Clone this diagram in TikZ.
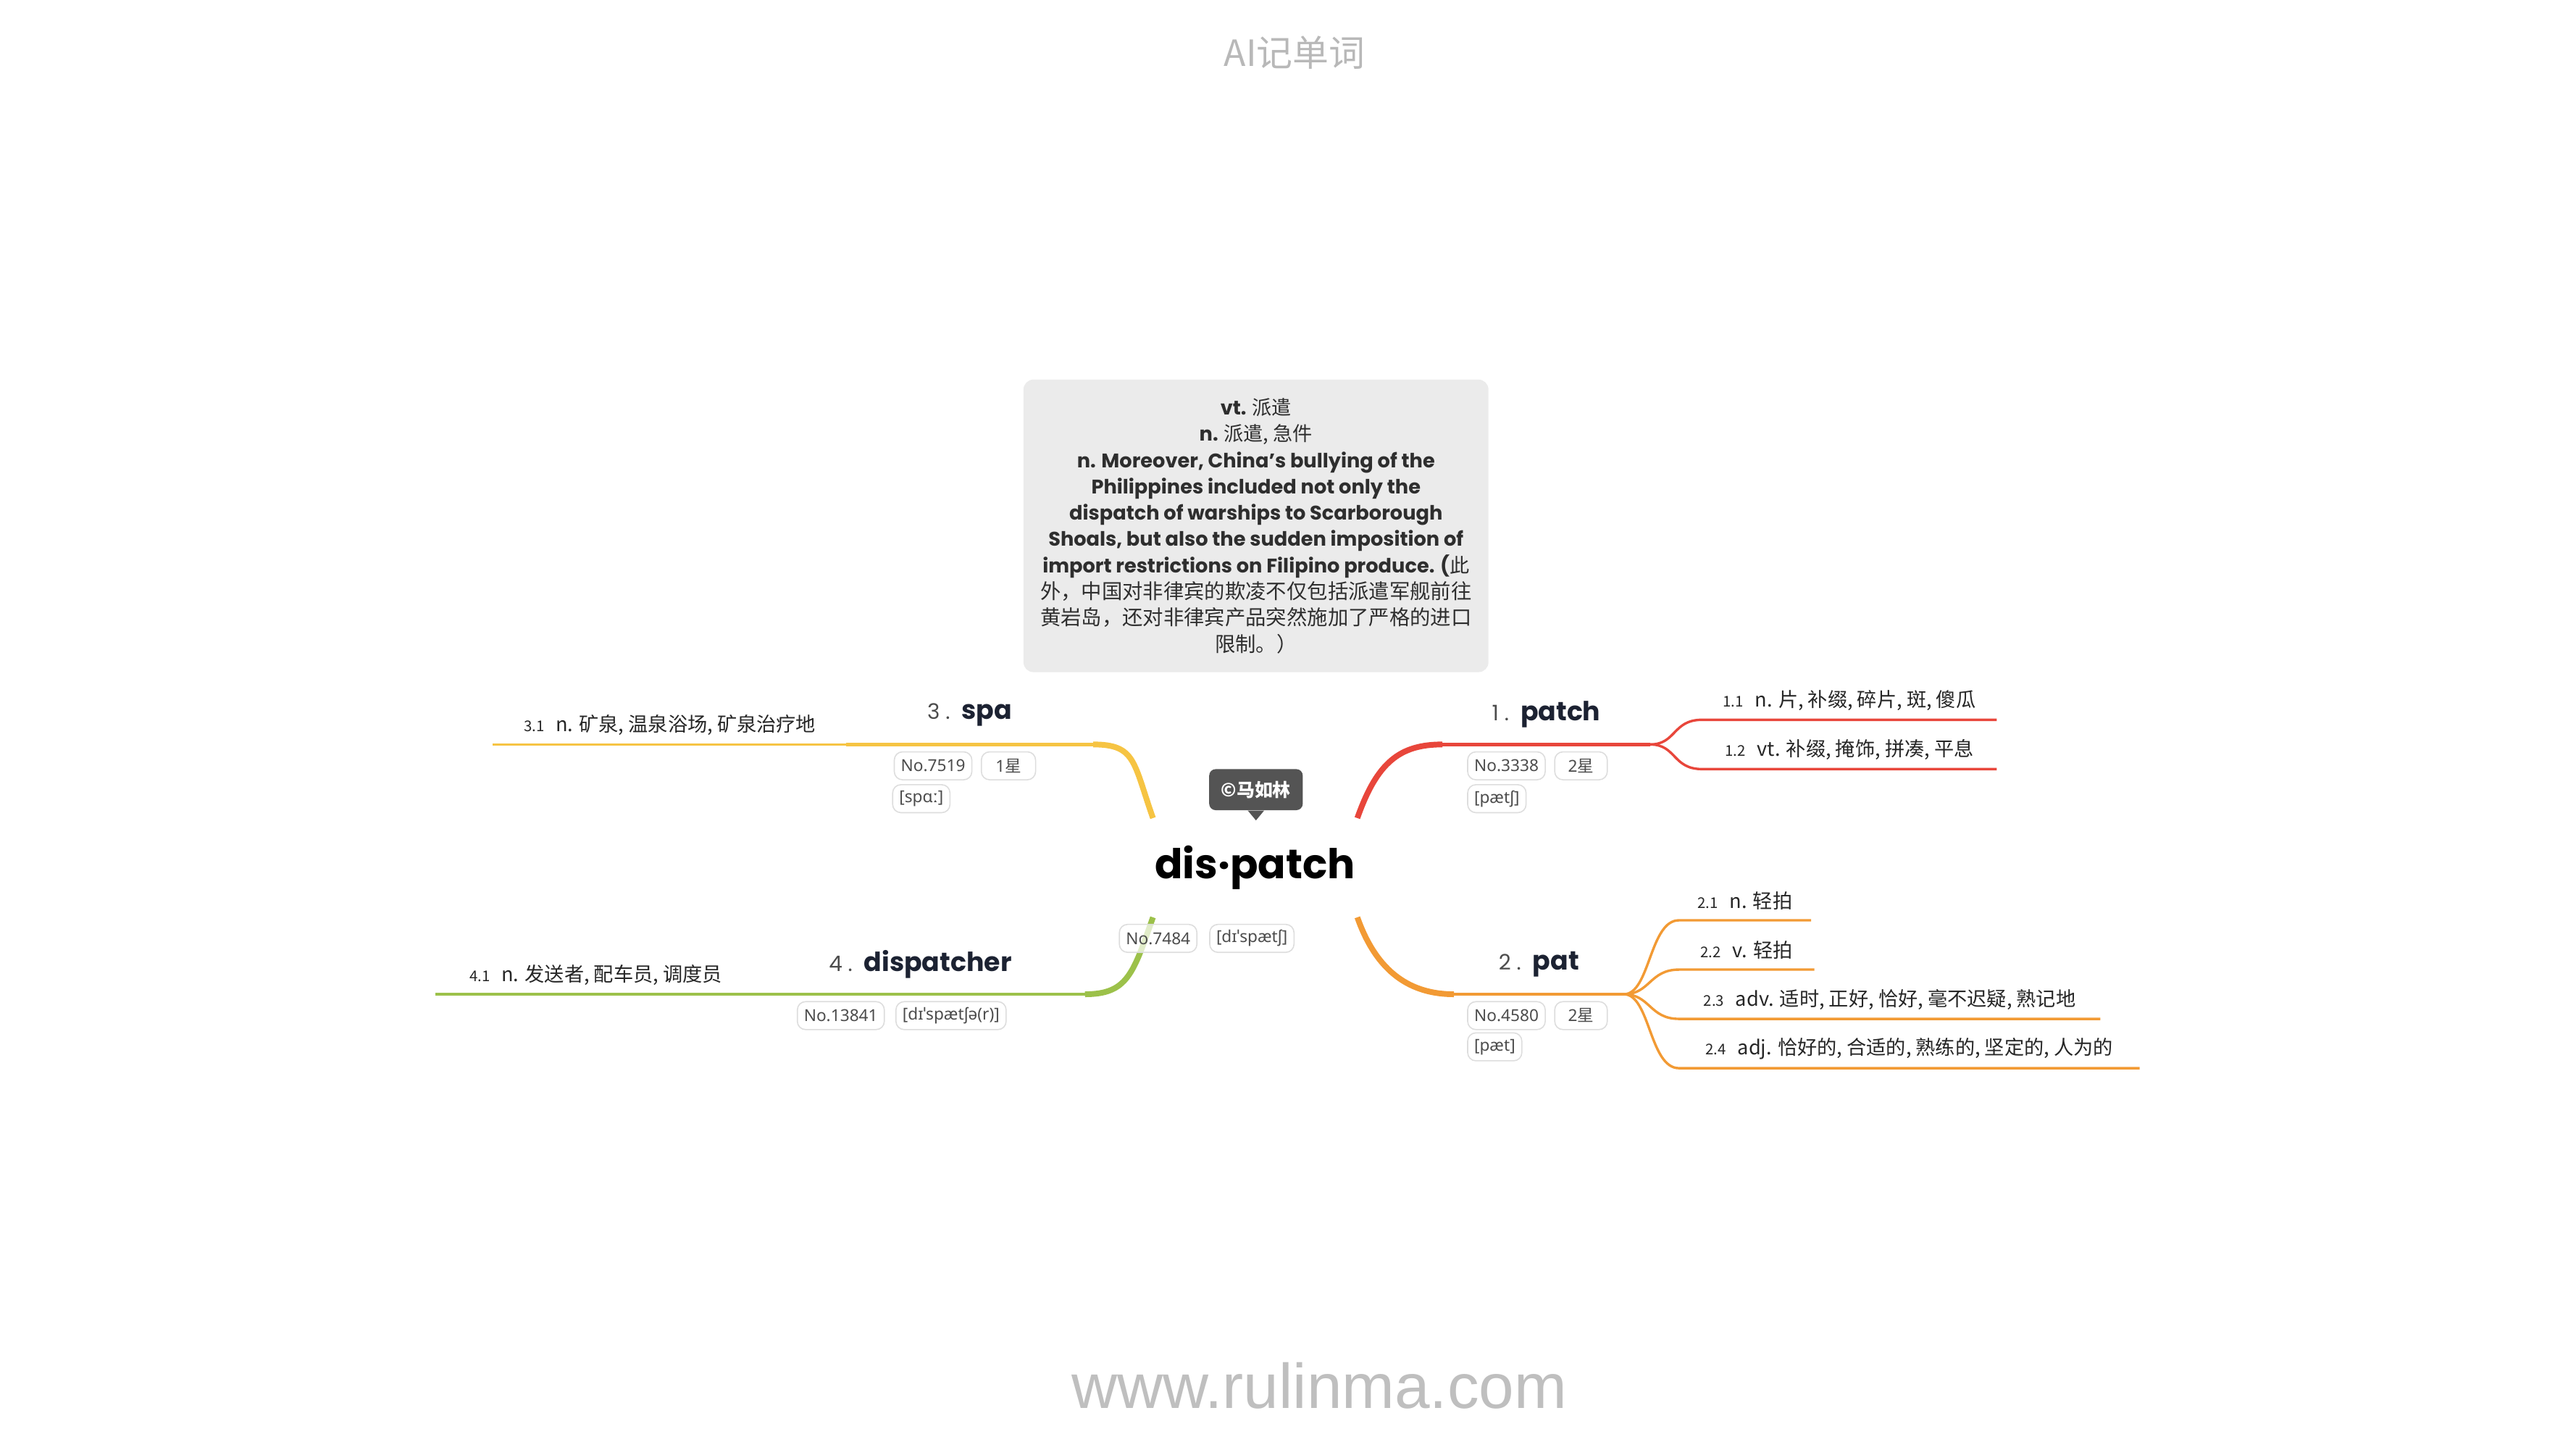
\documentclass[tikz,border=0pt]{standalone}
\usepackage{fontspec}
\setmainfont{Poppins}
\newfontfamily\cjk{Noto Sans CJK SC}
\newfontfamily\pillfont{Noto Sans}
\newfontfamily\webfont{Liberation Sans}
\usepackage{tikz}
\usetikzlibrary{calc}
\usepackage{xcolor}
\definecolor{bred}{HTML}{E8463B}
\definecolor{borange}{HTML}{F29A34}
\definecolor{byellow}{HTML}{F6C443}
\definecolor{bgreen}{HTML}{9CC14A}
\definecolor{boxgray}{HTML}{EBEBEB}
\definecolor{ink}{HTML}{1C2232}
\definecolor{pillline}{HTML}{DDDDDD}
\newcommand{\topicnum}[1]{{\mdseries\fontsize{13}{13}\selectfont\color{black!70}#1 .\hspace{7pt}}}
\newcommand{\subnum}[1]{{\fontsize{9}{9}\selectfont#1}\hspace{7pt}}

\begin{document}
\begin{tikzpicture}[x=1pt,y=-1pt,
  topic/.style={anchor=south west,minimum width=#1,minimum height=36pt,inner sep=0pt,
    font=\bfseries\fontsize{16}{16}\selectfont,text=ink},
  sub/.style={anchor=south west,minimum width=#1,minimum height=23pt,inner sep=0pt,
    font=\cjk\fontsize{12}{13}\selectfont,text=black!85},
  pill/.style={draw=pillline,fill=white,fill opacity=0.7,text opacity=1,rounded corners=5pt,
    line width=0.7pt,anchor=west,minimum height=17pt,inner xsep=4pt,inner ysep=0pt,
    font=\pillfont\fontsize{10}{11}\selectfont,text=black!70},
  trunk/.style={line width=3.5pt},
  limb/.style={line width=2pt},
  twig/.style={line width=1.5pt}
  ]
\useasboundingbox (0,0) rectangle (1568,882);

% title and footer
\node[font=\cjk\fontsize{22}{22}\selectfont,text=black!28] (title) at (788,32) {AI记单词};
\node[font=\webfont\fontsize{38.5}{38.5}\selectfont,text=black!25] (site) at (803,843) {www.rulinma.com};

% note box
\node[fill=boxgray,rounded corners=6pt,minimum width=283pt,minimum height=178pt,align=center,
  inner sep=0pt,text=black!82,font=\bfseries\fontsize{12}{16}\selectfont] (def) at (764.5,320)
  {vt. {\cjk\mdseries 派遣}\\
   n. {\cjk\mdseries 派遣, 急件}\\
   n. Moreover, China’s bullying of the\\
   Philippines included not only the\\
   dispatch of warships to Scarborough\\
   Shoals, but also the sudden imposition of\\
   import restrictions on Filipino produce. ({\cjk\mdseries 此}\\
   {\cjk\mdseries\fontsize{12.5}{16}\selectfont 外，中国对非律宾的欺凌不仅包括派遣军舰前往}\\
   {\cjk\mdseries\fontsize{12.5}{16}\selectfont 黄岩岛，还对非律宾产品突然施加了严格的进口}\\
   {\cjk\mdseries\fontsize{12.5}{16}\selectfont 限制。）}};

% root word
\node[font=\bfseries\fontsize{25}{25}\selectfont,minimum width=124pt,minimum height=60pt,
  inner sep=0pt] (root) at (764,528) {\raisebox{-2pt}{dis·patch}};
\node[fill=black!67,rounded corners=4pt,text=white,font=\cjk\bfseries\fontsize{11}{12}\selectfont,
  minimum width=57pt,minimum height=25pt,inner sep=2pt] (mark) at (764.5,480.5) {©马如林};
\fill[black!67] ([xshift=-5pt]mark.south) -- ([yshift=-6pt]mark.south) -- ([xshift=5pt]mark.south) -- cycle;

% topics
\node[topic=126pt] (b1) at (878,453) {\topicnum{1}patch};
\node[topic=103pt] (b2) at (885,605) {\topicnum{2}pat};
\node[topic=150pt] (b3) at (515,453) {\topicnum{3}spa};
\node[topic=200pt] (b4) at (460,605) {\topicnum{4}dispatcher};

% meanings
\node[sub=179pt] (s11) at (1036,438) {\subnum{1.1}n. 片, 补缀, 碎片, 斑, 傻瓜};
\node[sub=179pt] (s12) at (1036,468) {\subnum{1.2}vt. 补缀, 掩饰, 拼凑, 平息};
\node[sub=80pt] (s21) at (1022,560) {\subnum{2.1}n. 轻拍};
\node[sub=82pt] (s22) at (1022,590) {\subnum{2.2}v. 轻拍};
\node[sub=256pt] (s23) at (1022,620) {\subnum{2.3}adv. 适时, 正好, 恰好, 毫不迟疑, 熟记地};
\node[sub=280pt] (s24) at (1022,650) {\subnum{2.4}adj. 恰好的, 合适的, 熟练的, 坚定的, 人为的};
\node[sub=215pt] (s31) at (300,453) {\subnum{3.1}n. 矿泉, 温泉浴场, 矿泉治疗地};
\node[sub=195pt] (s41) at (265,605) {\subnum{4.1}n. 发送者, 配车员, 调度员};

% branches
\draw[bred,trunk] (root.north east) .. controls +(12,-34) and +(-26,0) .. (b1.south west);
\draw[bred,limb] (b1.south west) -- (b1.south east);
\foreach \s in {s11,s12}
  \draw[bred,twig] (b1.south east) .. controls +(16,0) and +(-18,0) .. (\s.south west) -- (\s.south east);

\draw[borange,trunk] (root.south east) .. controls +(12,34) and +(-26,0) .. (b2.south west);
\draw[borange,limb] (b2.south west) -- (b2.south east);
\foreach \s in {s21,s22,s23,s24}
  \draw[borange,twig] (b2.south east) .. controls +(16,0) and +(-18,0) .. (\s.south west) -- (\s.south east);

\draw[byellow,trunk] (root.north west) .. controls +(-12,-34) and +(26,0) .. (b3.south east);
\draw[byellow,limb] (b3.south east) -- (b3.south west);
\draw[byellow,twig] (b3.south west) -- (s31.south east) -- (s31.south west);

\draw[bgreen,trunk] (root.south west) .. controls +(-12,34) and +(26,0) .. (b4.south east);
\draw[bgreen,limb] (b4.south east) -- (b4.south west);
\draw[bgreen,twig] (b4.south west) -- (s41.south east) -- (s41.south west);

% tags
\node[pill] (n0) at (681,571) {No.7484};
\node[pill] (p0) at (736,571) {[dɪˈspætʃ]};
\node[pill] (n1) at (893,466) {No.3338};
\node[pill,minimum width=32pt] (r1) at (946,466) {2{\cjk 星}};
\node[pill] (p1) at (893,486) {[pætʃ]};
\node[pill] (n2) at (893,618) {No.4580};
\node[pill,minimum width=32pt] (r2) at (946,618) {2{\cjk 星}};
\node[pill] (p2) at (893,637) {[pæt]};
\node[pill] (n3) at (544,466) {No.7519};
\node[pill,minimum width=33pt] (r3) at (597,466) {1{\cjk 星}};
\node[pill] (p3) at (543,486) {[spɑː]};
\node[pill] (n4) at (485,618) {No.13841};
\node[pill] (p4) at (545,618) {[dɪˈspætʃə(r)]};
\end{tikzpicture}
\end{document}
